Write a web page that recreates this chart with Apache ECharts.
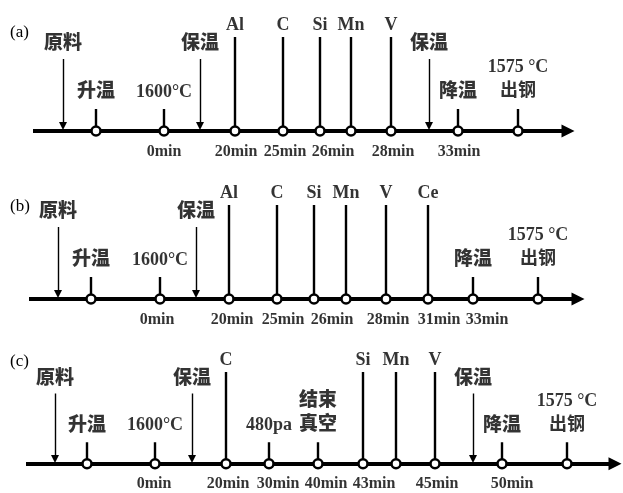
<!DOCTYPE html>
<html>
<head>
<meta charset="utf-8">
<script src="https://cdn.jsdelivr.net/npm/echarts@6/dist/echarts.min.js"></script>
<style>
  html, body { margin: 0; background: #fff; }
  #chart { width: 623px; height: 493px; }
</style>
</head>
<body>
<div id="chart"></div>
<script>
// (a) events along the timeline
const aEvents = ['原料', '升温', '1600°C', '保温', 'Al', 'C', 'Si', 'Mn', 'V', '保温', '降温', '1575 °C\n出钢'];
const aKinds = ['arrow', 'tick', 'tick', 'arrow', 'stem', 'stem', 'stem', 'stem', 'stem', 'arrow', 'tick', 'tick'];
const aPos = [63, 96, 164, 200, 235, 283, 320, 351, 391, 429, 458, 518];
const aTimes = ['0min', '20min', '25min', '26min', '28min', '33min'];
const aTimePos = [164, 236, 285, 333, 393, 459];
const aSpan = [33, 573];

// (b)
const bEvents = ['原料', '升温', '1600°C', '保温', 'Al', 'C', 'Si', 'Mn', 'V', 'Ce', '降温', '1575 °C\n出钢'];
const bKinds = ['arrow', 'tick', 'tick', 'arrow', 'stem', 'stem', 'stem', 'stem', 'stem', 'stem', 'tick', 'tick'];
const bPos = [58, 91, 160, 196, 229, 277, 314, 346, 386, 428, 473, 538];
const bTimes = ['0min', '20min', '25min', '26min', '28min', '31min', '33min'];
const bTimePos = [157, 232, 283, 332, 388, 439, 487];
const bSpan = [29, 583];

// (c)
const cEvents = ['原料', '升温', '1600°C', '保温', 'C', '480pa', '结束\n真空', 'Si', 'Mn', 'V', '保温', '降温', '1575 °C\n出钢'];
const cKinds = ['arrow', 'tick', 'tick', 'arrow', 'stem', 'tick', 'tick', 'stem', 'stem', 'stem', 'arrow', 'tick', 'tick'];
const cPos = [55, 87, 155, 192, 226, 269, 318, 363, 396, 435, 473, 502, 567];
const cTimes = ['0min', '20min', '30min', '40min', '43min', '45min', '50min'];
const cTimePos = [154, 228, 278, 326, 374, 437, 512];
const cSpan = [26, 620];

const panels = [
  {tag: '(a)', events: aEvents, kinds: aKinds, pos: aPos, times: aTimes, timePos: aTimePos, span: aSpan, lineY: 131, tagY: 33},
  {tag: '(b)', events: bEvents, kinds: bKinds, pos: bPos, times: bTimes, timePos: bTimePos, span: bSpan, lineY: 299, tagY: 207},
  {tag: '(c)', events: cEvents, kinds: cKinds, pos: cPos, times: cTimes, timePos: cTimePos, span: cSpan, lineY: 467, tagY: 362}
];

const FONT = '"Liberation Serif", "Noto Sans CJK SC", serif';
const STEM_H = 94, ARROW_H = 72, TICK_H = 22;

const grid = [], xAxis = [], yAxis = [], series = [], graphic = [];

panels.forEach((p, i) => {
  grid.push({left: 0, right: 0, top: p.lineY - 130, height: 160});
  xAxis.push({gridIndex: i, type: 'value', min: 0, max: 623, show: false});
  yAxis.push({gridIndex: i, type: 'value', min: -30, max: 130, show: false});
  const ax = {xAxisIndex: i, yAxisIndex: i};

  // main time axis with arrowhead
  series.push({
    ...ax, type: 'lines', coordinateSystem: 'cartesian2d', silent: true, z: 2,
    symbol: ['none', 'triangle'], symbolSize: [13, 13],
    lineStyle: {color: '#000', width: 4, opacity: 1},
    data: [{coords: [[p.span[0], 0], [p.span[1] - 5, 0]]}]
  });

  // stems and ticks
  series.push({
    ...ax, type: 'lines', coordinateSystem: 'cartesian2d', silent: true, z: 3,
    symbol: 'none',
    lineStyle: {color: '#000', width: 2.4, opacity: 1},
    data: p.pos.map((x, k) => ({kind: p.kinds[k], x}))
      .filter(d => d.kind !== 'arrow')
      .map(d => ({coords: [[d.x, 0], [d.x, d.kind === 'stem' ? STEM_H : TICK_H]]}))
  });

  // thin arrows (原料 / 保温)
  series.push({
    ...ax, type: 'lines', coordinateSystem: 'cartesian2d', silent: true, z: 3,
    symbol: ['none', 'triangle'], symbolSize: [6, 8],
    lineStyle: {color: '#000', width: 1.4, opacity: 1},
    data: p.pos.filter((x, k) => p.kinds[k] === 'arrow')
      .map(x => ({coords: [[x, ARROW_H], [x, 5]]}))
  });

  // open circles on the axis
  series.push({
    ...ax, type: 'scatter', silent: true, z: 5, clip: false,
    symbol: 'circle', symbolSize: 9,
    itemStyle: {color: '#fff', borderColor: '#000', borderWidth: 2.5, opacity: 1},
    data: p.pos.filter((x, k) => p.kinds[k] !== 'arrow').map(x => [x, 0])
  });

  // event labels
  series.push({
    ...ax, type: 'scatter', silent: true, z: 6, clip: false, symbolSize: 0,
    data: p.events.map((name, k) => {
      const kind = p.kinds[k];
      let y = kind === 'stem' ? 106 : kind === 'arrow' ? 87 : 39;
      if (name.includes('\n')) y = 52;
      const cjk = /[\u4e00-\u9fff]/.test(name) && !name.includes('°');
      return {
        value: [p.pos[k], y], name,
        label: {fontSize: cjk ? 19 : 18, fontWeight: cjk ? 900 : 'bold'}
      };
    }),
    label: {
      show: true, position: 'inside', formatter: d => d.name,
      color: '#000', fontFamily: FONT, fontWeight: 'bold', lineHeight: 24, align: 'center'
    }
  });

  // time labels under the axis
  series.push({
    ...ax, type: 'scatter', silent: true, z: 6, clip: false, symbolSize: 0,
    data: p.times.map((t, k) => ({value: [p.timePos[k], -21], name: t})),
    label: {
      show: true, position: 'inside', formatter: d => d.name,
      color: '#000', fontFamily: FONT, fontWeight: 'bold', fontSize: 16
    }
  });

  graphic.push({
    type: 'text', left: 10, top: p.tagY - 9,
    style: {text: p.tag, font: '17px "Liberation Serif", serif', fill: '#000'}
  });
});

const chart = echarts.init(document.getElementById('chart'));
chart.setOption({
  animation: false,
  backgroundColor: '#fff',
  grid, xAxis, yAxis, series, graphic
});
</script>
</body>
</html>
